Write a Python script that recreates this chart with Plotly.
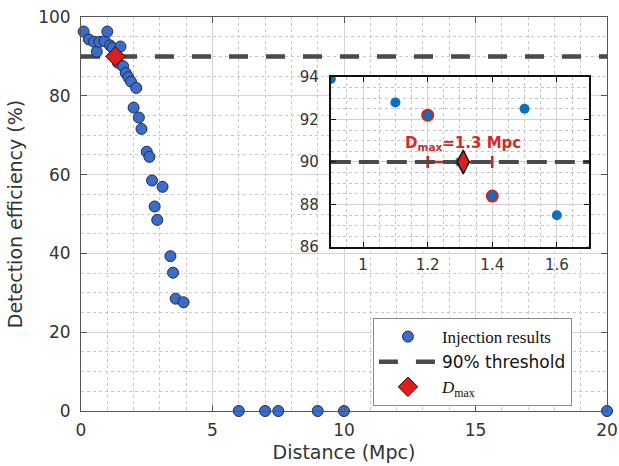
import plotly.graph_objects as go

# ---------------- data ----------------
distance = [0.1, 0.3, 0.5, 0.6, 0.7, 0.9, 1.0, 1.1, 1.2, 1.3, 1.4, 1.5, 1.6,
            1.7, 1.8, 1.9, 2.1, 2.0, 2.2, 2.3, 2.5, 2.6, 2.7, 3.1, 2.8, 2.9,
            3.4, 3.5, 3.6, 3.9, 6.0, 7.0, 7.5, 9.0, 10.0, 20.0]
efficiency = [96.3, 94.3, 93.7, 91.2, 93.7, 93.9, 96.3, 92.8, 92.2, 90.0, 88.4, 92.5, 87.5,
              85.8, 84.7, 83.6, 82.0, 77.0, 74.5, 71.6, 65.8, 64.5, 58.5, 56.9, 51.9, 48.5,
              39.3, 35.1, 28.5, 27.6, 0, 0, 0, 0, 0, 0]
threshold = 90
dmax = 1.31
dmax_lo = 1.2
dmax_hi = 1.4
dmax_label = "1.3 Mpc"

x_ticks = [0, 5, 10, 15, 20]
y_ticks = [0, 20, 40, 60, 80, 100]
inset_x_ticks = [1, 1.2, 1.4, 1.6]
inset_y_ticks = [86, 88, 90, 92, 94]

# ---------------- styles ----------------
BLUE = "#3a6cc8"
EDGE = "#1b2c55"
RED = "#dc1e1e"
INSET_BLUE = "#0a72bd"
DASH_GREY = "#4a4a4a"
TXT = "#333333"
SANS = "DejaVu Sans"

bracket = [i for i, d in enumerate(distance) if d in (dmax_lo, dmax_hi)]
bx = [distance[i] for i in bracket]
by = [efficiency[i] for i in bracket]

fig = go.Figure()

# main plot
fig.add_trace(go.Scatter(
    x=[0, 20], y=[threshold, threshold], mode="lines",
    line=dict(color=DASH_GREY, width=4.5, dash="19px,18px"),
    name="90% threshold", xaxis="x", yaxis="y", legendrank=2))
fig.add_trace(go.Scatter(
    x=distance, y=efficiency, mode="markers",
    marker=dict(size=11, color=BLUE, line=dict(color=EDGE, width=1)),
    name='<span style="font-family:Liberation Serif">Injection results</span>',
    cliponaxis=False, xaxis="x", yaxis="y", legendrank=1))
fig.add_trace(go.Scatter(
    x=[dmax], y=[threshold], mode="markers",
    marker=dict(symbol="diamond", size=15, color=RED, line=dict(color="#3a0a0a", width=1)),
    name='<span style="font-family:Liberation Serif"><i>D</i><sub>max</sub></span>',
    cliponaxis=False, xaxis="x", yaxis="y", legendrank=3))

# inset
fig.add_trace(go.Scatter(
    x=distance, y=efficiency, mode="markers",
    marker=dict(size=10, color=INSET_BLUE),
    showlegend=False, xaxis="x2", yaxis="y2"))
fig.add_trace(go.Scatter(
    x=bx, y=by, mode="markers",
    marker=dict(size=11, color=INSET_BLUE, line=dict(color=RED, width=2)),
    showlegend=False, xaxis="x2", yaxis="y2"))
fig.add_trace(go.Scatter(
    x=[dmax], y=[threshold], mode="markers",
    marker=dict(size=1, color=RED, opacity=0),
    error_x=dict(type="data", symmetric=False, array=[dmax_hi - dmax],
                 arrayminus=[dmax - dmax_lo], color=RED, thickness=2.5, width=6),
    showlegend=False, xaxis="x2", yaxis="y2"))
fig.add_trace(go.Scatter(
    x=[0.9, 1.7], y=[threshold, threshold], mode="lines",
    line=dict(color=DASH_GREY, width=4, dash="20px,8px"),
    showlegend=False, xaxis="x2", yaxis="y2"))
fig.add_trace(go.Scatter(
    x=[dmax], y=[threshold], mode="markers",
    marker=dict(symbol="diamond-tall", size=17, color=RED, line=dict(color="#111111", width=1.5)),
    showlegend=False, xaxis="x2", yaxis="y2"))

grid_main = dict(showgrid=True, gridcolor="#d4d4d4", gridwidth=1, automargin=False,
                 showline=True, linecolor="#555555", linewidth=1, mirror="ticks",
                 ticks="inside", ticklen=6, tickcolor="#555555", zeroline=False,
                 tickfont=dict(family=SANS, size=17, color=TXT))

fig.update_layout(
    width=619, height=466,
    margin=dict(l=81, r=12, t=17, b=55, autoexpand=False),
    paper_bgcolor="white", plot_bgcolor="white",
    showlegend=True,
    xaxis=dict(range=[0, 20], tickvals=x_ticks, domain=[0, 1],
               minor=dict(dtick=1, showgrid=True, gridcolor="#c8c8c8", griddash="dot", gridwidth=1),
               title=dict(text="Distance (Mpc)", font=dict(family=SANS, size=19, color=TXT), standoff=6),
               ticklabelstandoff=4, **grid_main),
    yaxis=dict(range=[0, 100], tickvals=y_ticks, domain=[0, 1],
               minor=dict(dtick=5, showgrid=True, gridcolor="#c8c8c8", griddash="dot", gridwidth=1),
               title=dict(text="Detection efficiency (%)", font=dict(family=SANS, size=19, color=TXT), standoff=10),
               ticklabelstandoff=6, **grid_main),
    xaxis2=dict(range=[0.9, 1.7], tickvals=inset_x_ticks, ticktext=["1", "1.2", "1.4", "1.6"],
                domain=[0.475, 0.966], anchor="y2", automargin=False,
                showgrid=True, gridcolor="#d0d0d0", zeroline=False,
                minor=dict(dtick=0.05, tick0=0, showgrid=True, gridcolor="#c4c4c4", griddash="dot"),
                showline=True, linecolor="#111111", linewidth=2, mirror="ticks",
                ticks="inside", ticklen=5, tickcolor="#111111",
                tickfont=dict(family=SANS, size=15, color=TXT), ticklabelstandoff=3),
    yaxis2=dict(range=[86, 94], tickvals=inset_y_ticks,
                domain=[0.416, 0.848], anchor="x2", automargin=False,
                showgrid=True, gridcolor="#d0d0d0", zeroline=False,
                minor=dict(dtick=0.5, showgrid=True, gridcolor="#c4c4c4", griddash="dot"),
                showline=True, linecolor="#111111", linewidth=2, mirror="ticks",
                ticks="inside", ticklen=5, tickcolor="#111111",
                tickfont=dict(family=SANS, size=15, color=TXT), ticklabelstandoff=7),
    legend=dict(x=0.555, y=0.236, xanchor="left", yanchor="top",
                bgcolor="white", bordercolor="#8a8a8a", borderwidth=1,
                font=dict(family=SANS, size=17, color="#111111"),
                itemwidth=58, tracegroupgap=0, traceorder="normal"),
    annotations=[dict(
        x=dmax, y=threshold + 0.35, xref="x2", yref="y2",
        text="<b>D<sub>max</sub>=" + dmax_label + "</b>",
        showarrow=False, xanchor="center", yanchor="bottom",
        font=dict(family=SANS, size=15, color="#d42a2a"))],
)

fig.write_html("out.html")
